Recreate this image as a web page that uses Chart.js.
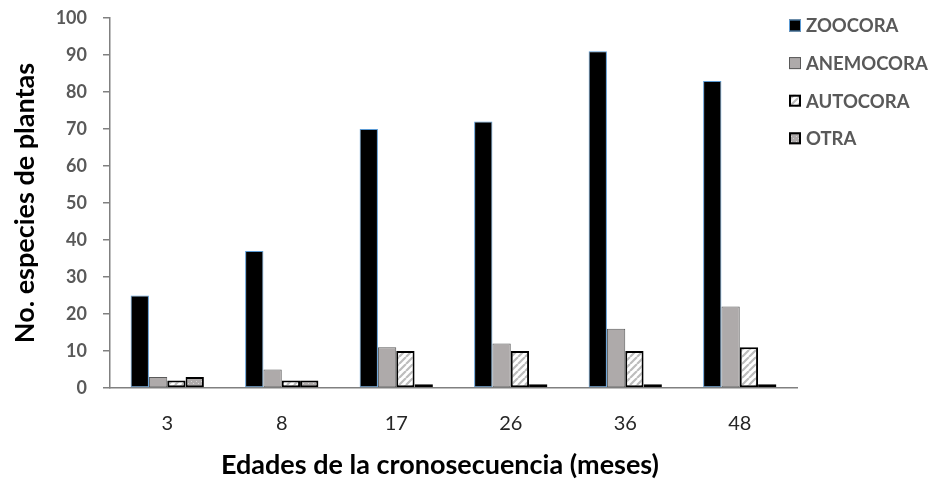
<!DOCTYPE html>
<html>
<head>
<meta charset="utf-8">
<script src="https://cdn.jsdelivr.net/npm/chart.js@4.4.1/dist/chart.umd.min.js"></script>
<style>
  html, body { margin: 0; padding: 0; background: #ffffff; }
  #wrap { width: 933px; height: 487px; }
</style>
</head>
<body>
<div id="wrap"><canvas id="c" width="933" height="487"></canvas></div>
<script>
// ---- Data ----
const categories = ['3', '8', '17', '26', '36', '48'];
const seriesNames = ['ZOOCORA', 'ANEMOCORA', 'AUTOCORA', 'OTRA'];
const zoocora   = [25, 37, 70, 72, 91, 83];
const anemocora = [3, 5, 11, 12, 16, 22];
const autocora  = [2, 2, 10, 10, 10, 11];
const otra      = [3, 2, 1, 1, 1, 1];
const yMin = 0, yMax = 100, yStep = 10;
const yTitle = 'No. especies de plantas';
const xTitle = 'Edades de la cronosecuencia (meses)';

// ---- Patterns ----
function stripePattern() {
  const s = 7;
  const c = document.createElement('canvas');
  c.width = s; c.height = s;
  const g = c.getContext('2d');
  g.fillStyle = '#ffffff';
  g.fillRect(0, 0, s, s);
  g.strokeStyle = '#BDBDBD';
  g.lineWidth = 2.2;
  g.beginPath();
  for (let k = -1; k <= 1; k++) {
    g.moveTo(k * s, s);
    g.lineTo(k * s + s, 0);
  }
  g.stroke();
  return g.createPattern(c, 'repeat');
}
function dotPattern() {
  const s = 5;
  const c = document.createElement('canvas');
  c.width = s; c.height = s;
  const g = c.getContext('2d');
  g.fillStyle = '#AEAAAA';
  g.fillRect(0, 0, s, s);
  g.fillStyle = '#D6D4D4';
  g.fillRect(1, 1, 1, 1);
  g.fillRect(3, 3, 1, 1);
  return g.createPattern(c, 'repeat');
}

const ctx = document.getElementById('c').getContext('2d');
const stripes = stripePattern();
const dots = dotPattern();

const datasets = [
  { label: seriesNames[0], data: zoocora, backgroundColor: '#000000', borderColor: '#5B9BD5', borderWidth: 1 },
  { label: seriesNames[1], data: anemocora, backgroundColor: '#AEAAAA', borderColor: '#595959', borderWidth: 1 },
  { label: seriesNames[2], data: autocora, backgroundColor: stripes, borderColor: '#000000', borderWidth: 2 },
  { label: seriesNames[3], data: otra, backgroundColor: dots, borderColor: '#000000', borderWidth: 2 }
].map(d => Object.assign(d, { borderSkipped: false, categoryPercentage: 0.64, barPercentage: 1.0 }));

const legendPlugin = {
  id: 'sideLegend',
  afterDraw(chart) {
    const c = chart.ctx;
    const x0 = 789, y0 = 25.5, gap = 37.6, box = 12;
    chart.data.datasets.forEach((ds, i) => {
      const cy = y0 + i * gap;
      c.save();
      c.fillStyle = ds.backgroundColor;
      c.fillRect(x0, cy - box / 2, box, box);
      const bw = ds.borderWidth;
      c.lineWidth = bw;
      c.strokeStyle = ds.borderColor;
      c.strokeRect(x0 + bw / 2, cy - box / 2 + bw / 2, box - bw, box - bw);
      c.fillStyle = '#595959';
      c.font = 'bold 18.5px Lato';
      c.textBaseline = 'middle';
      c.textAlign = 'left';
      c.fillText(ds.label, 806, cy + 1);
      c.restore();
    });
  }
};

const xTitlePlugin = {
  id: 'xTitle',
  afterDraw(chart) {
    const c = chart.ctx;
    c.save();
    c.fillStyle = '#000000';
    c.font = 'bold 27px Lato';
    c.textAlign = 'center';
    c.textBaseline = 'middle';
    c.fillText(xTitle, 440, 465);
    c.restore();
  }
};

new Chart(ctx, {
  type: 'bar',
  data: { labels: categories, datasets },
  options: {
    responsive: false,
    animation: false,
    devicePixelRatio: 1,
    layout: { padding: { top: 18, right: 136, left: 0, bottom: 0 } },
    plugins: { legend: { display: false }, tooltip: { enabled: false } },
    scales: {
      x: {
        grid: { display: false, drawTicks: false },
        border: { display: true, color: '#808080', width: 1.5 },
        ticks: { color: '#262626', font: { family: 'Lato', size: 20 }, padding: 24, maxRotation: 0 },
        afterFit(s) { s.height = 99; s.paddingLeft = 0; s.paddingRight = 0; }
      },
      y: {
        min: yMin, max: yMax,
        grid: { display: true, drawOnChartArea: false, drawTicks: true, tickLength: 7, color: '#808080', lineWidth: 1.5 },
        border: { display: true, color: '#808080', width: 1.5 },
        ticks: { stepSize: yStep, color: '#595959', font: { family: 'Lato', size: 18, weight: 'bold' }, padding: 16 },
        title: { display: true, text: yTitle, color: '#000000', font: { family: 'Lato', size: 27, weight: 'bold' }, padding: { top: 9, bottom: 0 } },
        afterFit(s) { s.width = 110; s.paddingTop = 0; s.paddingBottom = 0; }
      }
    }
  },
  plugins: [legendPlugin, xTitlePlugin]
});
</script>
</body>
</html>
